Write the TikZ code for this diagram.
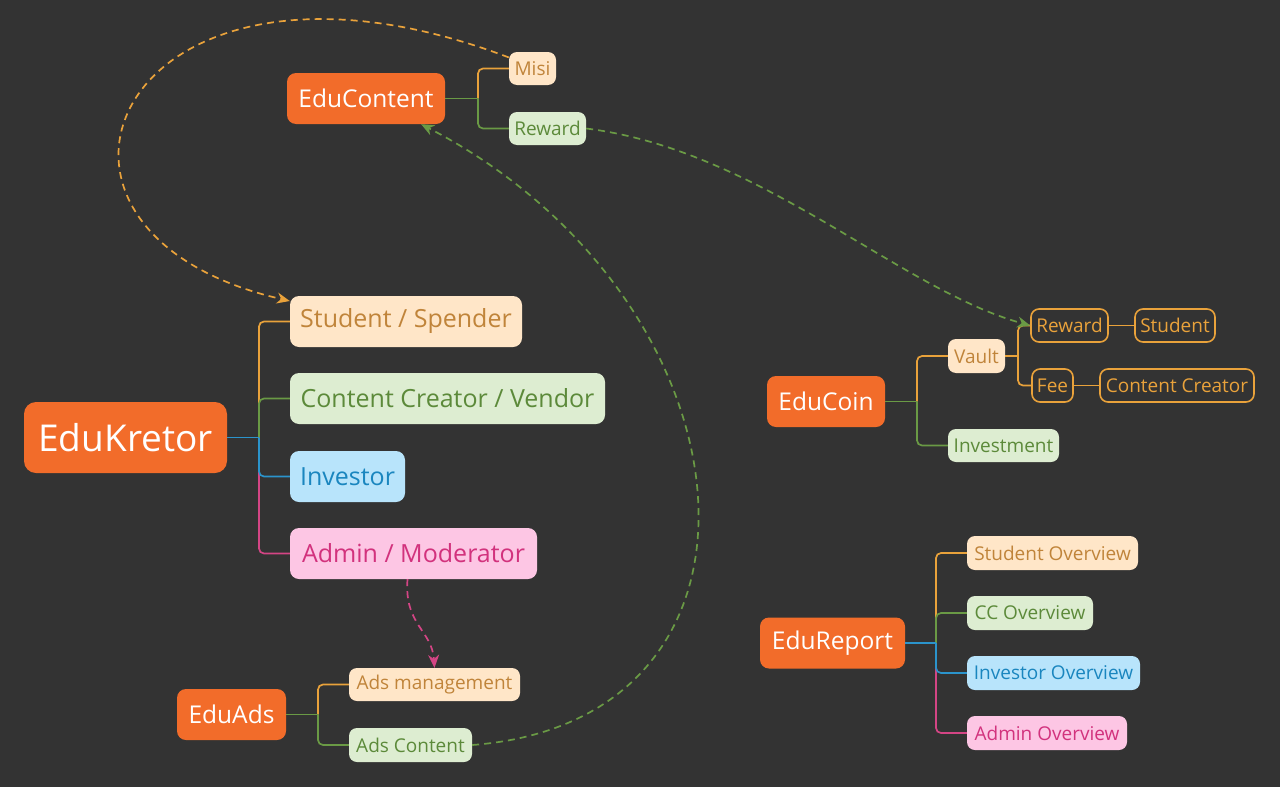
\documentclass[tikz,border=0pt]{standalone}
\usepackage{fontspec}
\setmainfont{Open Sans}
\usetikzlibrary{arrows.meta}
\definecolor{bg}{HTML}{333333}
\definecolor{mainor}{HTML}{F26C2A}
\definecolor{peafill}{HTML}{FFE6C8}
\definecolor{peatext}{HTML}{C0843A}
\definecolor{grfill}{HTML}{DDEDD1}
\definecolor{grtext}{HTML}{5C8A3A}
\definecolor{grline}{HTML}{6A9A45}
\definecolor{blfill}{HTML}{B8E4FB}
\definecolor{bltext}{HTML}{1A86BF}
\definecolor{blline}{HTML}{2B94CC}
\definecolor{pkfill}{HTML}{FDC6E4}
\definecolor{pktext}{HTML}{D2327D}
\definecolor{pkline}{HTML}{D44585}
\definecolor{orline}{HTML}{E9A23B}
\tikzset{
  box/.style={rounded corners=9, inner sep=0pt, align=center},
  mainbox/.style={box, fill=mainor, text=white, minimum height=51, font=\fontsize{24.5}{28}\selectfont},
  rolebox/.style={box, minimum height=51, font=\fontsize{25}{30}\selectfont},
  smallbox/.style={box, rounded corners=8, minimum height=33, font=\fontsize{19}{22}\selectfont},
  outbox/.style={smallbox, draw=orline, line width=1.6pt, fill=bg, text=orline},
  pea/.style={fill=peafill, text=peatext},
  grn/.style={fill=grfill, text=grtext},
  blu/.style={fill=blfill, text=bltext},
  pnk/.style={fill=pkfill, text=pktext},
  conn/.style={line width=1.7pt, rounded corners=5},
  dasharr/.style={line width=1.7pt, dash pattern=on 7pt off 5pt, -{Stealth[length=13pt,width=11pt]}},
}
\begin{document}
\begin{tikzpicture}[x=1pt,y=-1pt]
\fill[bg] (0,0) rectangle (1280,787);
\useasboundingbox (0,0) rectangle (1280,787);

% EduContent group
\node[mainbox, minimum width=158] (educontent) at (366,98.5) {EduContent};
\node[smallbox, pea, minimum width=47] (misi) at (532.5,68.5) {Misi};
\node[smallbox, grn, minimum width=77] (reward1) at (547.5,128.5) {Reward};

% EduKretor group
\node[box, rounded corners=12, fill=mainor, text=white, minimum width=203, minimum height=71, font=\fontsize{37}{42}\selectfont] (edukretor) at (125.5,437.5) {EduKretor};
\node[rolebox, pea, minimum width=232] (ssp) at (406,321.5) {Student / Spender};
\node[rolebox, grn, minimum width=315] (ccv) at (447.5,398.5) {Content Creator / Vendor};
\node[rolebox, blu, minimum width=115] (inv) at (347.5,476.5) {Investor};
\node[rolebox, pnk, minimum width=247] (adm) at (413.5,553.5) {Admin / Moderator};

% EduCoin group
\node[mainbox, minimum width=118] (educoin) at (826,401.5) {EduCoin};
\node[smallbox, pea, minimum width=57, minimum height=34] (vault) at (976.5,356) {Vault};
\node[smallbox, grn, minimum width=111] (investment) at (1003.5,445.5) {Investment};
\node[outbox, minimum width=77] (reward2) at (1069.5,325.5) {Reward};
\node[outbox, minimum width=80] (student2) at (1175,325.5) {Student};
\node[outbox, minimum width=41] (fee) at (1052.5,385.5) {Fee};
\node[outbox, minimum width=154] (ccreator) at (1177,385.5) {Content Creator};

% EduReport group
\node[mainbox, minimum width=145] (edureport) at (832.5,643) {EduReport};
\node[smallbox, pea, minimum width=171, minimum height=34] (sov) at (1052.5,553) {Student Overview};
\node[smallbox, grn, minimum width=126, minimum height=34] (ccov) at (1030,613) {CC Overview};
\node[smallbox, blu, minimum width=173, minimum height=34] (iov) at (1053.5,673) {Investor Overview};
\node[smallbox, pnk, minimum width=160, minimum height=34] (aov) at (1047,733) {Admin Overview};

% EduAds group
\node[mainbox, minimum width=109] (eduads) at (231.5,714.5) {EduAds};
\node[smallbox, pea, minimum width=171] (adsm) at (434.5,684.5) {Ads management};
\node[smallbox, grn, minimum width=123, minimum height=34] (adsc) at (410.5,745) {Ads Content};

% connectors EduContent
\coordinate (bc) at (478,98.5);
\draw[conn, orline] (bc) |- (misi.west);
\draw[conn, grline] (bc) |- (reward1.west);
\draw[conn, grline, rounded corners=0] (educontent.east) -- (bc);

% connectors EduKretor
\coordinate (bk) at (259,437.5);
\draw[conn, orline] (bk) |- (ssp.west);
\draw[conn, grline] (bk) |- (ccv.west);
\draw[conn, pkline] (bk) |- (adm.west);
\draw[conn, blline] (bk) |- (inv.west);
\draw[conn, blline, rounded corners=0] (edukretor.east) -- (bk);

% connectors EduCoin
\coordinate (bcoin) at (917,401.5);
\draw[conn, orline] (bcoin) |- (vault.west);
\draw[conn, grline] (bcoin) |- (investment.west);
\draw[conn, grline, rounded corners=0] (educoin.east) -- (bcoin);
\coordinate (bv) at (1018,356);
\draw[conn, orline] (bv) |- (reward2.west);
\draw[conn, orline] (bv) |- (fee.west);
\draw[conn, orline, rounded corners=0] (vault.east) -- (bv);
\draw[conn, orline] (reward2.east) -- (student2.west);
\draw[conn, orline] (fee.east) -- (ccreator.west);

% connectors EduReport
\coordinate (br) at (936,643);
\draw[conn, orline] (br) |- (sov.west);
\draw[conn, grline] (br) |- (ccov.west);
\draw[conn, pkline] (br) |- (aov.west);
\draw[conn, blline] (br) |- (iov.west);
\draw[conn, blline, rounded corners=0] (edureport.east) -- (br);

% connectors EduAds
\coordinate (ba) at (318,714.5);
\draw[conn, orline] (ba) |- (adsm.west);
\draw[conn, grline] (ba) |- (adsc.west);
\draw[conn, grline, rounded corners=0] (eduads.east) -- (ba);

% dashed relations
\draw[dasharr, orline] (misi.155) .. controls (120,-90) and (-20,230) .. (ssp.170);
\draw[dasharr, grline] (reward1.east) .. controls (760,150) and (900,290) .. (reward2.west);
\draw[dasharr, grline] (adsc.east) .. controls (800,720) and (760,300) .. (educontent.-25);
\draw[dasharr, pkline] ([xshift=-6pt]adm.south) .. controls (404,625) and (432,630) .. (adsm.north);
\end{tikzpicture}
\end{document}
